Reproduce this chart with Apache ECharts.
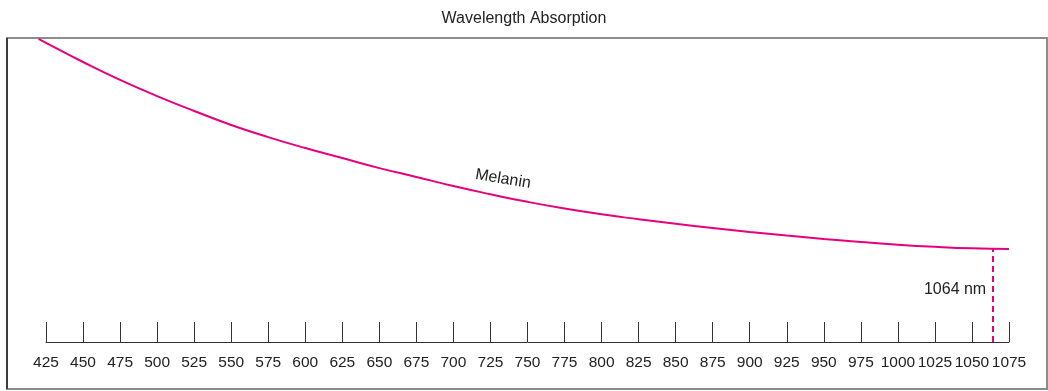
<!DOCTYPE html>
<html>
<head>
<meta charset="utf-8">
<title>Wavelength Absorption</title>
<script src="https://cdn.jsdelivr.net/npm/echarts@6/dist/echarts.min.js"></script>
<style>
  html, body { margin: 0; padding: 0; background: #fff; }
  #chart { width: 1048px; height: 391px; }
</style>
</head>
<body>
<div id="chart"></div>
<script>
// wavelength (nm) and relative melanin absorption (arbitrary units, 0-100)
var wavelengths = [420, 425, 450, 475, 500, 525, 550, 575, 600, 625, 650, 675, 700, 725, 750,
                   775, 800, 825, 850, 875, 900, 925, 950, 975, 1000, 1025, 1050, 1075];
var melanin = [99.7, 98.4, 92.1, 86.2, 80.9, 76.0, 71.4, 67.4, 63.8, 60.5, 57.2, 54.3, 51.3, 48.6, 46.1,
               43.9, 42.0, 40.4, 38.9, 37.5, 36.2, 35.0, 33.9, 32.9, 32.0, 31.3, 30.8, 30.6];
var tickLabels = [425, 450, 475, 500, 525, 550, 575, 600, 625, 650, 675, 700, 725, 750, 775,
                  800, 825, 850, 875, 900, 925, 950, 975, 1000, 1025, 1050, 1075];
var markerNm = 1064;
var markerValue = 30.6;
var curveStart = 420;

var font = "'Liberation Sans', Arial, sans-serif";
var pink = '#e6007e';

var chart = echarts.init(document.getElementById('chart'));
var seriesData = [];
wavelengths.forEach(function (w, i) {
  seriesData.push([w, melanin[i]]);
});

// same px per nm in both grids; grid 1 starts 5 nm earlier so the curve can begin at 420
var axisLeft = 46, axisRight = 39;
var pxPerNm = (1048 - axisLeft - axisRight) / (tickLabels[tickLabels.length - 1] - tickLabels[0]);

chart.setOption({
  animation: false,
  title: {
    text: 'Wavelength Absorption',
    left: 'center',
    top: 6,
    textStyle: { fontFamily: font, fontSize: 16, fontWeight: 'normal', color: '#222' }
  },
  grid: [
    { left: axisLeft, right: axisRight, top: 38, bottom: 49 },
    { left: axisLeft - (tickLabels[0] - curveStart) * pxPerNm, right: axisRight, top: 38, bottom: 49 }
  ],
  xAxis: [{
    type: 'value',
    gridIndex: 0,
    min: tickLabels[0],
    max: tickLabels[tickLabels.length - 1],
    axisLine: { show: true, lineStyle: { color: '#333', width: 1 } },
    axisTick: { show: true, inside: true, length: 20, customValues: tickLabels,
                lineStyle: { color: '#333', width: 1 } },
    axisLabel: { margin: 13, fontFamily: font, fontSize: 15.5, color: '#222', customValues: tickLabels,
                 hideOverlap: false, formatter: function (v) { return String(v); } },
    splitLine: { show: false }
  }, {
    type: 'value',
    gridIndex: 1,
    min: curveStart,
    max: tickLabels[tickLabels.length - 1],
    show: false
  }],
  yAxis: [
    { type: 'value', gridIndex: 0, min: 0, max: 100, show: false },
    { type: 'value', gridIndex: 1, min: 0, max: 100, show: false }
  ],
  graphic: [
    { type: 'rect', shape: { x: 7, y: 38, width: 1040, height: 351 },
      style: { fill: 'none', stroke: '#8c8c8c', lineWidth: 2 } },
    { type: 'line', shape: { x1: 7, y1: 38, x2: 7, y2: 389 },
      style: { stroke: '#222', lineWidth: 1.5 } },
    { type: 'text', x: 503, y: 179, rotation: -0.165,
      style: { text: 'Melanin', fontFamily: font, fontSize: 16, fill: '#222', align: 'center', verticalAlign: 'middle' } }
  ],
  series: [{
    type: 'line',
    name: 'Melanin',
    xAxisIndex: 1,
    yAxisIndex: 1,
    data: seriesData,
    smooth: true,
    showSymbol: false,
    lineStyle: { color: pink, width: 2 },
    markLine: {
      silent: true,
      symbol: 'none',
      label: { show: false },
      lineStyle: { color: pink, width: 2, type: [6, 4] },
      data: [[{ coord: [markerNm, 0] }, { coord: [markerNm, markerValue] }]]
    },
    markPoint: {
      silent: true,
      symbol: 'circle',
      symbolSize: 1,
      itemStyle: { color: 'rgba(0,0,0,0)' },
      label: {
        show: true,
        position: 'left',
        distance: 6,
        formatter: markerNm + ' nm',
        fontFamily: font,
        fontSize: 16,
        color: '#222'
      },
      data: [{ coord: [markerNm, 17.4] }]
    }
  }]
});
</script>
</body>
</html>
